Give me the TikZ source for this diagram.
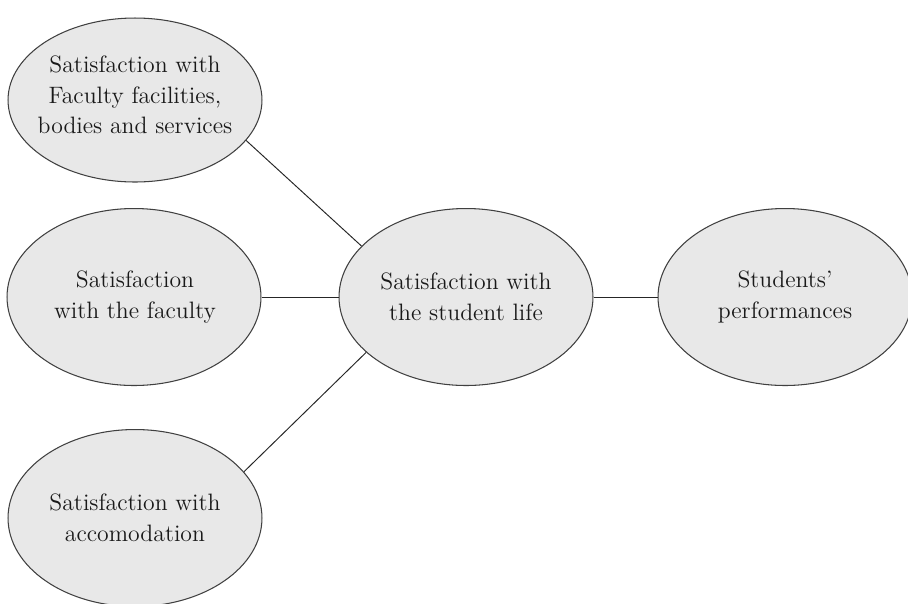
\documentclass[tikz,border=0pt]{standalone}
\usetikzlibrary{shapes.geometric}
\begin{document}
\begin{tikzpicture}[x=0.02cm, y=-0.02cm,
  blob/.style={ellipse, draw=black!75, fill=black!9, line width=0.6pt,
    minimum width=5.08cm, minimum height=3.54cm, inner sep=0pt},
  txt/.style={align=center, font=\fontsize{13.5}{17.5}\selectfont, text=black!90},
  link/.style={line width=0.55pt, draw=black!85}]
\useasboundingbox (0,0) rectangle (908,603);
% ellipses
\node[blob, minimum height=3.28cm] (fac) at (135,100) {};
\node[blob] (teach) at (134,297) {};
\node[blob] (accom) at (135,518) {};
\node[blob] (life) at (466,297) {};
\node[blob] (perf) at (785,297) {};
% texts
\node[txt] (facT) at (135,95) {Satisfaction with\\Faculty facilities,\\bodies and services};
\node[txt] (teachT) at (fac |- teach) {Satisfaction\\with the faculty};
\node[txt] (accomT) at (accom) {Satisfaction with\\accomodation};
\node[txt] (lifeT) at (life) {Satisfaction with\\the student life};
\node[txt] (perfT) at (perf) {Students'\\performances};
% links
\draw[link] (fac.-20) -- (life.154);
\draw[link] (teach) -- (life);
\draw[link] (accom.23) -- (life.-151);
\draw[link] (life) -- (perf);
\end{tikzpicture}
\end{document}
